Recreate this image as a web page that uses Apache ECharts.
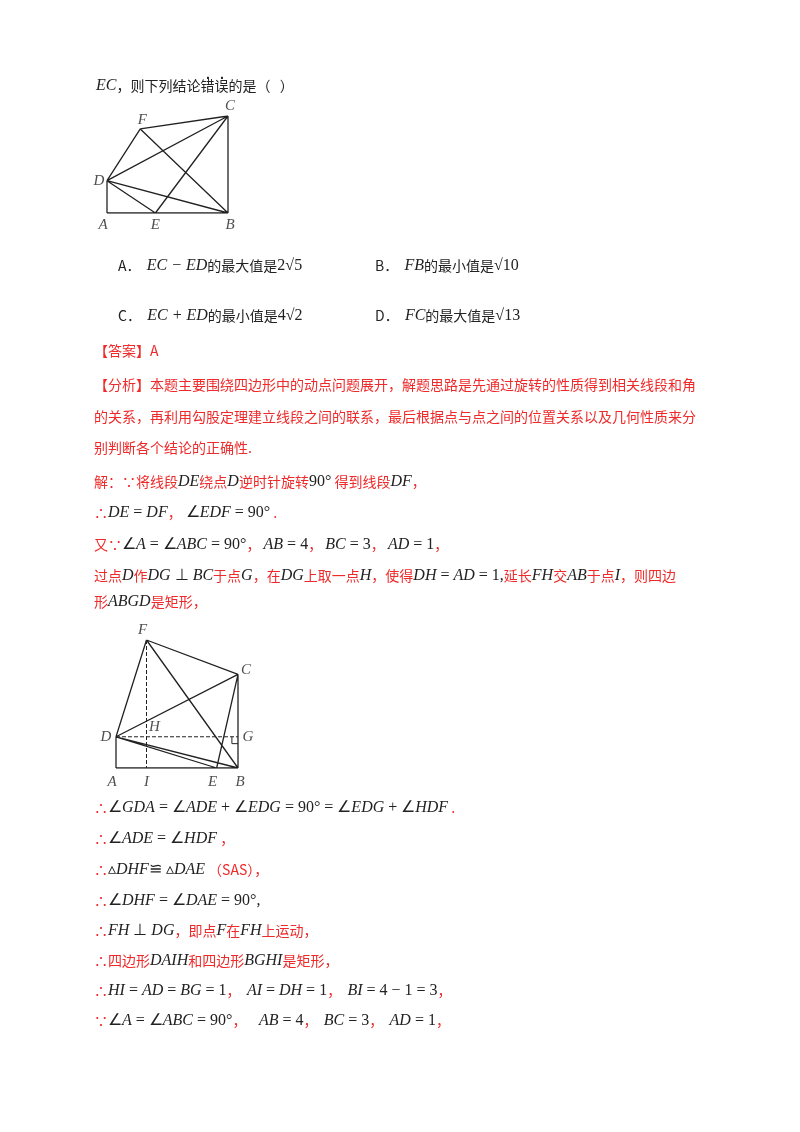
<!DOCTYPE html>
<html><head><meta charset="utf-8">
<script src="https://cdn.jsdelivr.net/npm/echarts@6/dist/echarts.min.js"></script>
<style>html,body{margin:0;background:#fff}#c{width:800px;height:1132px}</style>
</head><body><div id="c"></div>
<script>
// 图1 点坐标 (AB=4, BC=3, AD=1)
const pts1 = { A: [0, 0], B: [4, 0], C: [4, 3], D: [0, 1], E: [1.6, 0], F: [1.1, 2.6] };
const segs1 = ['AB', 'BC', 'AD', 'DF', 'FC', 'DC', 'DB', 'FB', 'CE', 'DE'];
// 图2
const pts2 = { A: [0, 0], B: [4, 0], C: [4, 3], D: [0, 1], G: [4, 1], E: [3.3, 0], F: [1, 4.1], H: [1, 1], I: [1, 0] };
const segs2 = ['AB', 'BC', 'AD', 'DF', 'FC', 'DC', 'DB', 'FB', 'CE', 'DE'];
const dash2 = ['FI', 'DG'];
const lbl1 = { A: [-4, 12], B: [2, 12], C: [2, -10], D: [-8, 0], E: [0, 12], F: [2, -9] };
const lbl2 = { A: [-4, 14], B: [2, 14], C: [8, -4], D: [-10, 0], E: [-4, 14], F: [-4, -10], G: [10, 0], H: [8, -10], I: [0, 14] };

const red = '#ee2a2a', blk = '#222';
const S = { fontFamily: 'Noto Sans CJK SC', fontSize: 14 };
const M = { fontFamily: 'Liberation Serif', fontSize: 16 };
const rich = {
  r: { ...S, fill: red }, k: { ...S, fill: blk },
  m: { ...M, fontStyle: 'italic', fill: blk },
  n: { ...M, fill: blk }
};
const lines = [
  [96, 88, '{m|EC}{k|，则下列结论错误的是（   ）}'],
  [118, 268, '{k|A．  }{m|EC − ED}{k|的最大值是}{n|2√5}'],
  [375, 268, '{k|B．  }{m|FB}{k|的最小值是}{n|√10}'],
  [118, 318, '{k|C．  }{m|EC + ED}{k|的最小值是}{n|4√2}'],
  [375, 318, '{k|D．  }{m|FC}{k|的最大值是}{n|√13}'],
  [94, 354, '{r|【答案】A}'],
  [94, 388, '{r|【分析】本题主要围绕四边形中的动点问题展开，解题思路是先通过旋转的性质得到相关线段和角}'],
  [94, 420, '{r|的关系，再利用勾股定理建立线段之间的联系，最后根据点与点之间的位置关系以及几何性质来分}'],
  [94, 451, '{r|别判断各个结论的正确性.}'],
  [94, 484, '{r|解：∵将线段}{m|DE}{r|绕点}{m|D}{r|逆时针旋转}{n|90°}{r| 得到线段}{m|DF}{r|，}'],
  [94, 515, '{r|∴}{m|DE}{n| = }{m|DF}{r|，}{n| ∠}{m|EDF}{n| = 90°}{r| .}'],
  [94, 547, '{r|又∵}{n|∠}{m|A}{n| = ∠}{m|ABC}{n| = 90°}{r|， }{m|AB}{n| = 4}{r|， }{m|BC}{n| = 3}{r|， }{m|AD}{n| = 1}{r|，}'],
  [94, 578, '{r|过点}{m|D}{r|作}{m|DG}{n| ⊥ }{m|BC}{r|于点}{m|G}{r|，在}{m|DG}{r|上取一点}{m|H}{r|，使得}{m|DH}{n| = }{m|AD}{n| = 1,}{r|延长}{m|FH}{r|交}{m|AB}{r|于点}{m|I}{r|，则四边}'],
  [94, 604, '{r|形}{m|ABGD}{r|是矩形，}'],
  [94, 810, '{r|∴}{n|∠}{m|GDA}{n| = ∠}{m|ADE}{n| + ∠}{m|EDG}{n| = 90° = ∠}{m|EDG}{n| + ∠}{m|HDF}{r| .}'],
  [94, 841, '{r|∴}{n|∠}{m|ADE}{n| = ∠}{m|HDF}{r| ，}'],
  [94, 872, '{r|∴}{n|▵}{m|DHF}{n|≌ ▵}{m|DAE}{r| （SAS），}'],
  [94, 903, '{r|∴}{n|∠}{m|DHF}{n| = ∠}{m|DAE}{n| = 90°,}'],
  [94, 933, '{r|∴}{m|FH}{n| ⊥ }{m|DG}{r|，即点}{m|F}{r|在}{m|FH}{r|上运动，}'],
  [94, 963, '{r|∴四边形}{m|DAIH}{r|和四边形}{m|BGHI}{r|是矩形，}'],
  [94, 993, '{r|∴}{m|HI}{n| = }{m|AD}{n| = }{m|BG}{n| = 1}{r|，  }{m|AI}{n| = }{m|DH}{n| = 1}{r|，  }{m|BI}{n| = 4 − 1 = 3}{r|，}'],
  [94, 1023, '{r|∵}{n|∠}{m|A}{n| = ∠}{m|ABC}{n| = 90°}{r|，    }{m|AB}{n| = 4}{r|，  }{m|BC}{n| = 3}{r|，  }{m|AD}{n| = 1}{r|，}']
];

function segData(pts, segs) {
  const d = [];
  segs.forEach(s => { d.push(pts[s[0]], pts[s[1]], null); });
  return d;
}
function lblData(pts, off) {
  return Object.keys(pts).map(k => ({ value: pts[k], name: k, label: { offset: off[k] } }));
}
const ax = (i, max) => ({ type: 'value', gridIndex: i, min: 0, max: max, show: false });
const lblStyle = { show: true, formatter: '{b}', fontFamily: 'Liberation Serif', fontStyle: 'italic', fontSize: 15, color: blk };

const chart = echarts.init(document.getElementById('c'));
chart.setOption({
  animation: false,
  grid: [
    { left: 107, top: 116, width: 121, height: 97 },
    { left: 116, top: 640, width: 122, height: 128 }
  ],
  xAxis: [ax(0, 4), ax(1, 4)],
  yAxis: [ax(0, 3), ax(1, 4.1)],
  series: [
    { type: 'line', xAxisIndex: 0, yAxisIndex: 0, data: segData(pts1, segs1), symbol: 'none', lineStyle: { color: blk, width: 1.3 } },
    { type: 'scatter', xAxisIndex: 0, yAxisIndex: 0, data: lblData(pts1, lbl1), symbolSize: 0, label: lblStyle },
    { type: 'line', xAxisIndex: 1, yAxisIndex: 1, data: segData(pts2, segs2), symbol: 'none', lineStyle: { color: blk, width: 1.3 } },
    { type: 'line', xAxisIndex: 1, yAxisIndex: 1, data: segData(pts2, dash2), symbol: 'none', lineStyle: { color: blk, width: 1, type: 'dashed' } },
    { type: 'line', xAxisIndex: 1, yAxisIndex: 1, data: [[3.8, 1], [3.8, 0.78], [4, 0.78]], symbol: 'none', lineStyle: { color: blk, width: 1 } },
    { type: 'scatter', xAxisIndex: 1, yAxisIndex: 1, data: lblData(pts2, lbl2), symbolSize: 0, label: lblStyle }
  ],
  graphic: lines.map(l => ({
    type: 'text', left: l[0], top: l[1] - 10,
    style: { text: l[2], rich: rich, fill: blk }
  })).concat([
    { type: 'text', left: 206, top: 72, style: { text: '·', fontSize: 14, fontWeight: 'bold', fill: blk } },
    { type: 'text', left: 220, top: 72, style: { text: '·', fontSize: 14, fontWeight: 'bold', fill: blk } }
  ])
});
</script></body></html>
